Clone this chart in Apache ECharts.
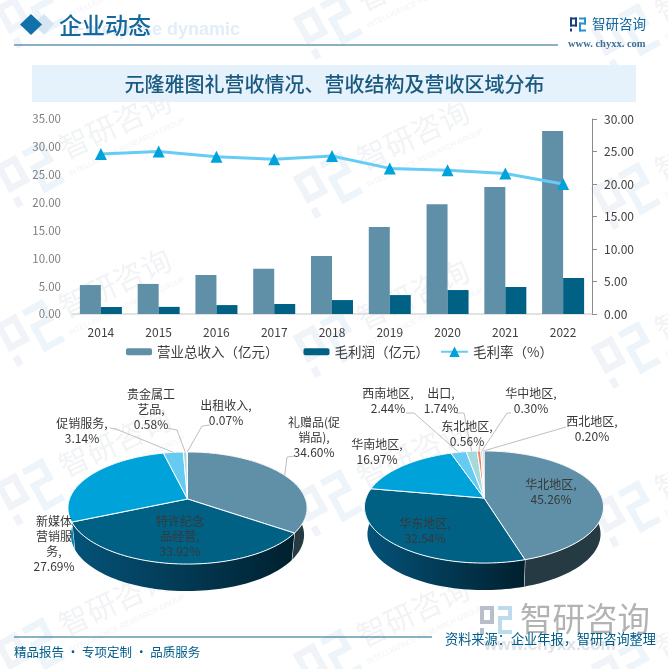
<!DOCTYPE html>
<html>
<head>
<meta charset="utf-8">
<title>元隆雅图礼营收情况</title>
<style>
  html, body { margin: 0; padding: 0; background: #fff; }
  #chart { width: 668px; height: 669px; }
</style>
<script src="https://cdn.jsdelivr.net/npm/echarts@6/dist/echarts.min.js"></script>
</head>
<body>
<div id="chart"></div>
<script>
var years = ['2014', '2015', '2016', '2017', '2018', '2019', '2020', '2021', '2022']
var revenue = [5.2, 5.4, 7.0, 8.1, 10.4, 15.6, 19.7, 22.8, 32.85]
var grossProfit = [1.26, 1.28, 1.6, 1.8, 2.5, 3.4, 4.3, 4.85, 6.46]
var grossMargin = [24.6, 25.0, 24.2, 23.8, 24.3, 22.4, 22.1, 21.6, 20.0]

var leftTicks = ['0.00', '5.00', '10.00', '15.00', '20.00', '25.00', '30.00', '35.00']
var rightTicks = ['0.00', '5.00', '10.00', '15.00', '20.00', '25.00', '30.00']

var productNames = ['礼赠品(促\n销品)', '特许纪念\n品经营', '新媒体\n营销服\n务', '促销服务', '贵金属工\n艺品', '出租收入']
var productShares = [34.60, 33.92, 27.69, 3.14, 0.58, 0.07]

var regionNames = ['华北地区', '华东地区', '华南地区', '西南地区', '出口', '东北地区', '华中地区', '西北地区']
var regionShares = [45.26, 32.54, 16.97, 2.44, 1.74, 0.56, 0.30, 0.20]

var FONT = '"Noto Sans CJK SC", "Noto Sans", sans-serif'

var sliceColors = ['#5f90a8', '#006184', '#00a2da', '#66cbf3', '#a4dade', '#ee8560', '#b9c4cc', '#8fa9b8']
var wallColors = [
  ['#263a44', '#263a44'],
  ['#05537a', '#00202e'],
  ['#0085b5', '#00617f'],
  ['#3a8fb0', '#3a8fb0'],
  ['#6a9a9e', '#6a9a9e'],
  ['#a05a40', '#a05a40'],
  ['#7c8890', '#7c8890'],
  ['#5a7280', '#5a7280']
]

// label centres and leader line starts, same order as the slices
var productLabelPos = [[314, 437], [180, 536], [54, 544], [82, 431], [151, 409], [226, 413]]
var productLeaders = [
  [[295, 456], [287, 457]],
  null,
  null,
  [[110, 428], [116, 429]],
  [[167, 428], [177, 430]],
  [[210, 425], [202, 426]]
]
var regionLabelPos = [[551, 492], [425, 531], [377, 452], [388, 401], [441, 401], [467, 434], [531, 401], [592, 429]]
var regionLeaders = [
  null,
  null,
  null,
  [[406, 413], [414, 413]],
  [[456, 413], [464, 413]],
  [[480, 443]],
  [[511, 413], [507, 413]],
  [[566, 427]]
]

// Excel style 3d pie: a disc seen in perspective, k is the foreshortening
var PERSPECTIVE = 0.161
var PIE_W = 118
var PIE_H = 54.6
var PIE_DEPTH = 27

function project (pie, deg) {
  var a = deg * Math.PI / 180
  var u = Math.sin(a)
  var v = Math.cos(a)
  var s = 1 + PERSPECTIVE * v
  return [pie.cx + PIE_W * u / s, pie.cy - PIE_H * v / s]
}

function dropped (pie, p) {
  return [pie.cx + (p[0] - pie.cx) * 0.975, p[1] + PIE_DEPTH]
}

function sliceAngles (values) {
  var total = values.reduce(function (a, b) { return a + b }, 0)
  var run = 0
  return values.map(function (v) {
    var start = run / total * 360
    run += v
    return [start, run / total * 360]
  })
}

function arcPoints (pie, from, to) {
  var pts = []
  var steps = Math.max(2, Math.ceil((to - from) / 2))
  for (var i = 0; i <= steps; i++) {
    pts.push(project(pie, from + (to - from) * i / steps))
  }
  return pts
}

function wallItem (pie, angles) {
  return function (params) {
    var i = params.dataIndex
    var arc = arcPoints(pie, angles[i][0], angles[i][1])
    var lower = arc.map(function (p) { return dropped(pie, p) }).reverse()
    var c = wallColors[i]
    var edge = arc[arc.length - 1]
    return {
      type: 'group',
      children: [{
        type: 'polygon',
        shape: { points: arc.concat(lower) },
        style: {
          fill: new echarts.graphic.LinearGradient(0, 0, 1, 0, [
            { offset: 0, color: c[0] }, { offset: 1, color: c[1] }
          ])
        }
      }, {
        type: 'line',
        shape: { x1: edge[0], y1: edge[1], x2: dropped(pie, edge)[0], y2: dropped(pie, edge)[1] },
        style: { stroke: '#fff', lineWidth: 1 }
      }]
    }
  }
}

function topItem (pie, angles) {
  return function (params) {
    var i = params.dataIndex
    var pts = [[pie.cx, pie.cy]].concat(arcPoints(pie, angles[i][0], angles[i][1]))
    return {
      type: 'polygon',
      shape: { points: pts },
      style: { fill: sliceColors[i], stroke: '#fff', lineWidth: 1, lineJoin: 'round' }
    }
  }
}

function labelItem (pie, angles, names, values, pos, leaders) {
  return function (params) {
    var i = params.dataIndex
    var children = []
    if (leaders[i]) {
      var end = project(pie, (angles[i][0] + angles[i][1]) / 2)
      children.push({
        type: 'polyline',
        shape: { points: leaders[i].concat([end]) },
        style: { stroke: '#bfbfbf', lineWidth: 1, fill: null }
      })
    }
    children.push({
      type: 'text',
      style: {
        text: names[i] + ',\n' + values[i].toFixed(2) + '%',
        x: pos[i][0],
        y: pos[i][1],
        align: 'center',
        verticalAlign: 'middle',
        fontSize: 12,
        lineHeight: 15,
        fontFamily: FONT,
        fill: '#383838'
      }
    })
    return { type: 'group', children: children }
  }
}

function pieSeries (pie, names, values, pos, leaders) {
  var angles = sliceAngles(values)
  var base = { type: 'custom', coordinateSystem: 'none', data: values, silent: true, animation: false }
  return [
    Object.assign({}, base, { z: 3, renderItem: wallItem(pie, angles) }),
    Object.assign({}, base, { z: 4, renderItem: topItem(pie, angles) }),
    Object.assign({}, base, { z: 5, renderItem: labelItem(pie, angles, names, values, pos, leaders) })
  ]
}

// brand mark built from bars, used for header, footer and the watermark
function logoBars (unit, colA, colB) {
  var a = [[0, 0, 7, 2], [0, 0, 2, 9], [5, 0, 2, 9], [0, 7, 7, 2], [0, 11, 2, 3]]
  var b = [[9, 0, 7, 2], [14, 0, 2, 7], [9, 5, 7, 2], [9, 5, 2, 9], [9, 12, 7, 2]]
  function bars (list, col) {
    return list.map(function (r) {
      return {
        type: 'rect',
        shape: { x: (r[0] - 8) * unit, y: (r[1] - 7) * unit, width: r[2] * unit, height: r[3] * unit },
        style: { fill: col }
      }
    })
  }
  return bars(a, colA).concat(bars(b, colB))
}

function watermarks () {
  var out = []
  for (var col = 0; col < 3; col++) {
    for (var row = 0; row < 5; row++) {
      var x = 30 + col * 298
      var y = 15 + col * 11 + row * 159
      out.push({
        type: 'group', x: x, y: y, rotation: 0.5, z: 0, silent: true,
        children: logoBars(3.4, '#f0f3f7', '#edf5fa')
      })
      out.push({
        type: 'text', x: x + 85, y: y - 50, rotation: 0.44, z: 0, silent: true,
        style: {
          text: '智研咨询', align: 'center', verticalAlign: 'middle',
          fontSize: 30, fontFamily: FONT, fill: '#f1f3f5'
        }
      })
      out.push({
        type: 'text', x: x + 97, y: y - 27, rotation: 0.44, z: 0, silent: true,
        style: {
          text: 'INTELLIGENCE RESEARCH GROUP', align: 'center', verticalAlign: 'middle',
          fontSize: 7.5, fontFamily: '"Liberation Sans", sans-serif', fill: '#f0f2f5'
        }
      })
    }
  }
  return out
}

function pageFrame () {
  function text (t, x, y, size, color, extra) {
    return {
      type: 'text', x: x, y: y, z: 1, silent: true,
      style: Object.assign({
        text: t, fontSize: size, fontFamily: FONT, fill: color, verticalAlign: 'middle'
      }, extra || {})
    }
  }
  function rule (x1, x2, y, color) {
    return {
      type: 'line', z: 1, silent: true,
      shape: { x1: x1, y1: y, x2: x2, y2: y },
      style: { stroke: color, lineWidth: 1.2 }
    }
  }
  return [
    { type: 'polygon', z: 1, shape: { points: [[44, 14], [54, 24], [44, 35], [33, 24]] }, style: { fill: '#d5e5f1' } },
    { type: 'polygon', z: 1, shape: { points: [[31, 14], [42, 24.5], [31, 35], [20, 24.5]] }, style: { fill: '#1270aa' } },
    text('Enterprise dynamic', 73, 30, 18, '#e1eef8', { fontFamily: '"Liberation Sans", sans-serif', fontWeight: 'bold' }),
    text('企业动态', 59, 25, 23, '#16689c', { fontWeight: 500 }),
    rule(14, 558, 45, '#19648f'),
    {
      type: 'group', x: 578, y: 24.5, z: 1, silent: true,
      children: logoBars(1, '#1f3f7c', '#2b8fd0')
    },
    text('智研咨询', 592, 24, 13.5, '#156a9c'),
    text('www. chyxx. com', 568, 44, 10.5, '#3f6f95', { fontFamily: '"Liberation Serif", serif', fontWeight: 'bold' }),
    { type: 'rect', z: 1, shape: { x: 32, y: 65, width: 604, height: 37 }, style: { fill: '#e6f2fb' } },
    text('元隆雅图礼营收情况、营收结构及营收区域分布', 334.5, 84, 20, '#1b5a80', { align: 'center', fontWeight: 500 }),
    {
      type: 'group', x: 496, y: 620, z: 1, silent: true,
      children: logoBars(2, '#b9bfca', '#bcdcee')
    },
    text('智研咨询', 520, 619, 32.5, '#b3b3b3'),
    text('www.chyxx.com', 484, 645, 17, '#dfe3e8', { fontFamily: '"Liberation Sans", sans-serif', fontWeight: 'bold' }),
    rule(14, 432, 637, '#19648f'),
    text('资料来源：企业年报，智研咨询整理', 445, 638.5, 13.2, '#005c8a'),
    text('精品报告 · 专项定制 · 品质服务', 14, 652, 12.5, '#005c8a')
  ]
}

var chart = echarts.init(document.getElementById('chart'), null, { renderer: 'canvas' })

var productPie = { cx: 187.5, cy: 499 }
var regionPie = { cx: 484, cy: 498 }

var legendText = { fontSize: 13.5, color: '#404040', fontFamily: FONT }

var option = {
  animation: false,
  backgroundColor: '#fff',
  textStyle: { fontFamily: FONT },
  graphic: { elements: watermarks().concat(pageFrame()) },
  grid: { left: 72, right: 76, top: 119, height: 195, containLabel: false },
  legend: [{
    left: 126,
    top: 345,
    padding: 0,
    itemWidth: 26,
    itemHeight: 7,
    itemGap: 25,
    textStyle: legendText,
    data: ['营业总收入（亿元）', '毛利润（亿元）']
  }, {
    left: 440,
    top: 345,
    padding: 0,
    itemWidth: 27,
    itemHeight: 13,
    textStyle: legendText,
    data: ['毛利率（%）']
  }],
  xAxis: {
    type: 'category',
    data: years,
    axisTick: { show: false },
    axisLine: { lineStyle: { color: '#d9d9d9', width: 1.5 } },
    axisLabel: { color: '#404040', fontSize: 12, margin: 12 }
  },
  yAxis: [{
    type: 'value',
    min: 0,
    max: 35,
    interval: 5,
    axisLine: { show: false },
    axisTick: { show: false },
    splitLine: { show: false },
    axisLabel: {
      color: '#7f7f7f',
      fontSize: 11.5,
      margin: 11,
      formatter: function (v) { return leftTicks[v / 5] }
    }
  }, {
    type: 'value',
    min: 0,
    max: 30,
    interval: 5,
    position: 'right',
    axisLine: { show: true, lineStyle: { color: '#8c8c8c' } },
    axisTick: { show: true, length: 5, lineStyle: { color: '#8c8c8c' } },
    splitLine: { show: false },
    axisLabel: {
      color: '#404040',
      fontSize: 12,
      margin: 12,
      formatter: function (v) { return rightTicks[v / 5] }
    }
  }],
  series: [{
    name: '营业总收入（亿元）',
    type: 'bar',
    data: revenue,
    barWidth: 21,
    barGap: 0,
    itemStyle: { color: '#5f90a8' }
  }, {
    name: '毛利润（亿元）',
    type: 'bar',
    data: grossProfit,
    barWidth: 21,
    itemStyle: { color: '#006184' }
  }, {
    name: '毛利率（%）',
    type: 'line',
    yAxisIndex: 1,
    data: grossMargin,
    symbol: 'triangle',
    symbolSize: 12,
    z: 6,
    lineStyle: { color: '#66ccf5', width: 3 },
    itemStyle: { color: '#00a2dc' }
  }].concat(
    pieSeries(productPie, productNames, productShares, productLabelPos, productLeaders),
    pieSeries(regionPie, regionNames, regionShares, regionLabelPos, regionLeaders)
  )
}

chart.setOption(option)
</script>
</body>
</html>
